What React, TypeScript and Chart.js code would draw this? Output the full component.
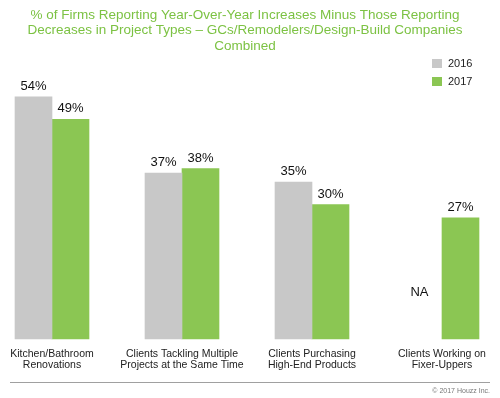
import React, { useEffect, useRef } from "react";
import { Chart, registerables } from "chart.js";

Chart.register(...registerables);

const categories: string[][] = [
  ["Kitchen/Bathroom", "Renovations"],
  ["Clients Tackling Multiple", "Projects at the Same Time"],
  ["Clients Purchasing", "High-End Products"],
  ["Clients Working on", "Fixer-Uppers"],
];
const values2016: (number | null)[] = [54, 37, 35, null];
const values2017: (number | null)[] = [49, 38, 30, 27];
const seriesLabels = ["2016", "2017"];
const titleLines = [
  "% of Firms Reporting Year-Over-Year Increases Minus Those Reporting",
  "Decreases in Project Types \u2013 GCs/Remodelers/Design-Build Companies",
  "Combined",
];
const naLabel = "NA";
const naValue = 10.5;
const copyright = "\u00a9 2017 Houzz Inc.";

const GRAY = "#c8c8c8";
const GREEN = "#8bc653";
const TITLE_GREEN = "#7cc243";
const FONT = "Arial, 'Liberation Sans', Helvetica, sans-serif";

const decorPlugin = {
  id: "decor",
  afterDraw(chart: any) {
    const ctx = chart.ctx;
    ctx.save();
    // title
    ctx.fillStyle = TITLE_GREEN;
    ctx.font = `13.5px ${FONT}`;
    ctx.textAlign = "center";
    ctx.textBaseline = "middle";
    titleLines.forEach((t, i) => ctx.fillText(t, 245, 15 + i * 15.5));
    // legend
    ctx.font = `11px ${FONT}`;
    ctx.textAlign = "left";
    chart.data.datasets.forEach((ds: any, i: number) => {
      const y = 59 + i * 18;
      ctx.fillStyle = ds.backgroundColor;
      ctx.fillRect(432, y, 10, 9);
      ctx.fillStyle = "#222";
      ctx.fillText(ds.label, 448, y + 5);
    });
    // value labels
    ctx.font = `13px ${FONT}`;
    ctx.textAlign = "center";
    ctx.textBaseline = "bottom";
    ctx.fillStyle = "#111";
    const yScale = chart.scales.y;
    chart.data.datasets.forEach((ds: any, di: number) => {
      const meta = chart.getDatasetMeta(di);
      meta.data.forEach((bar: any, i: number) => {
        const v = ds.data[i];
        if (v === null || v === undefined) {
          const other = chart.getDatasetMeta(1 - di).data[i];
          const x = other ? other.x + (di === 0 ? -37 : 37) : bar.x;
          ctx.textBaseline = "middle";
          ctx.fillText(naLabel, x - 4, yScale.getPixelForValue(naValue));
          ctx.textBaseline = "bottom";
        } else {
          ctx.fillText(`${v}%`, bar.x, bar.y - 4);
        }
      });
    });
    // bottom rule
    ctx.strokeStyle = "#a0a0a0";
    ctx.lineWidth = 1;
    ctx.beginPath();
    ctx.moveTo(10, 382.5);
    ctx.lineTo(490, 382.5);
    ctx.stroke();
    ctx.font = `7px ${FONT}`;
    ctx.fillStyle = "#777";
    ctx.textAlign = "right";
    ctx.textBaseline = "middle";
    ctx.fillText(copyright, 490, 391);
    ctx.restore();
  },
};

export default function App() {
  const ref = useRef<HTMLCanvasElement>(null);
  useEffect(() => {
    if (!ref.current) return;
    const chart = new Chart(ref.current, {
      type: "bar",
      data: {
        labels: categories,
        datasets: [
          { label: seriesLabels[0], data: values2016, backgroundColor: GRAY, clip: false as any },
          { label: seriesLabels[1], data: values2017, backgroundColor: GREEN, clip: false as any },
        ],
      },
      options: {
        animation: false,
        responsive: false,
        maintainAspectRatio: false,
        layout: { padding: { left: 52, right: 58, top: 70, bottom: 14 } },
        datasets: { bar: { barThickness: 37 } as any },
        plugins: {
          legend: { display: false },
          tooltip: { enabled: false },
          title: { display: false },
        },
        scales: {
          x: {
            offset: false,
            grid: { display: false, drawTicks: false },
            border: { display: false },
            afterFit: (scale: any) => {
              scale.height = 45;
            },
            ticks: {
              color: "#222",
              font: { family: FONT, size: 10.5, lineHeight: 1.05 },
              padding: 10,
              maxRotation: 0,
              autoSkip: false,
            },
          },
          y: {
            display: false,
            min: 0,
            max: 60,
          },
        },
      },
      plugins: [decorPlugin],
    });
    return () => chart.destroy();
  }, []);
  return (
    <div style={{ position: "absolute", left: 0, top: 0, width: 500, height: 398, background: "#fff" }}>
      <canvas ref={ref} width={500} height={398} style={{ width: 500, height: 398 }} />
    </div>
  );
}
